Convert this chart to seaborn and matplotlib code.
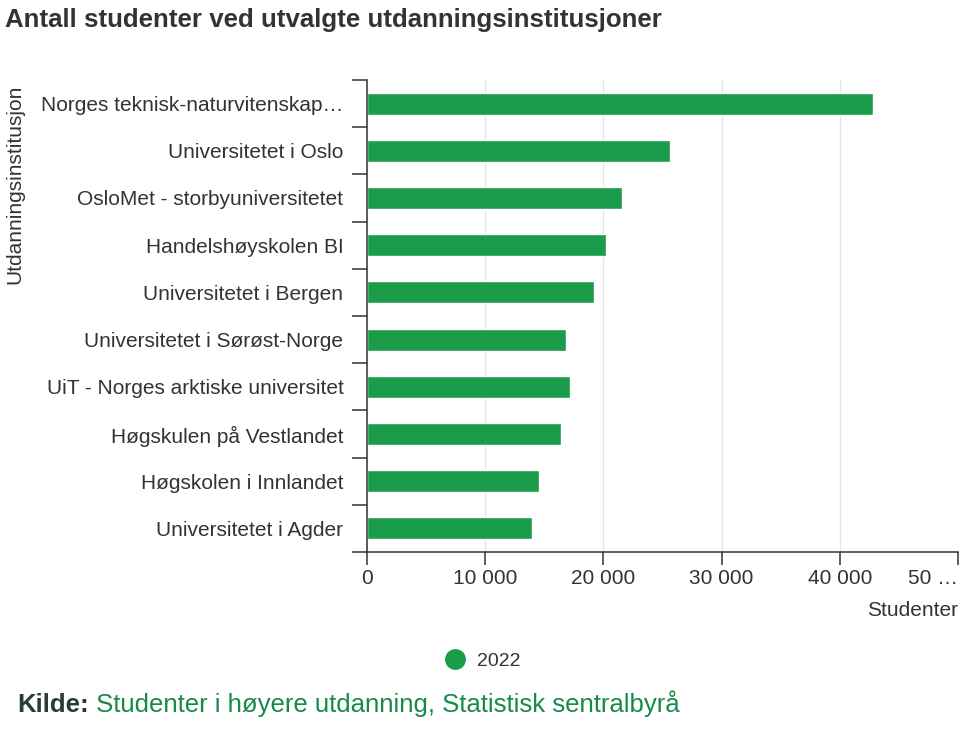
import numpy as np
import pandas as pd
import seaborn as sns
import matplotlib
matplotlib.use("Agg")
import matplotlib.pyplot as plt
from matplotlib.lines import Line2D
from matplotlib.ticker import FixedLocator

# data
institutions = ["Norges teknisk-naturvitenskap…",
                "Universitetet i Oslo",
                "OsloMet - storbyuniversitetet",
                "Handelshøyskolen BI",
                "Universitetet i Bergen",
                "Universitetet i Sørøst-Norge",
                "UiT - Norges arktiske universitet",
                "Høgskulen på Vestlandet",
                "Høgskolen i Innlandet",
                "Universitetet i Agder"]
students_2022 = [42800, 25650, 21550, 20250, 19200, 16850, 17150, 16450, 14550, 13950]
x_ticks = [0, 10000, 20000, 30000, 40000, 50000]
x_ticklabels = ["0", "10 000", "20 000", "30 000", "40 000", "50 …"]

green = "#1b9c4b"
dark = "#333333"

sns.set_style("white")
plt.rcParams["font.family"] = ["Liberation Sans", "DejaVu Sans"]

df = pd.DataFrame({"Utdanningsinstitusjon": institutions, "Studenter": students_2022})

fig = plt.figure(figsize=(9.73, 7.3), dpi=100)
ax = fig.add_axes([367 / 973, 1 - 552 / 730, (958 - 367) / 973, (552 - 80) / 730])

sns.barplot(data=df, x="Studenter", y="Utdanningsinstitusjon", orient="h",
            color=green, width=0.47, saturation=1, ax=ax)

ax.set_xlim(0, 50000)
ax.set_ylim(len(institutions) - 0.5, -0.5)
ax.set_xticks(x_ticks)
ax.set_xticklabels(x_ticklabels)
ax.get_xticklabels()[-1].set_horizontalalignment("right")
ax.xaxis.grid(True, color="#e6e6e6", linewidth=1)
ax.set_axisbelow(True)

for s in ["top", "right"]:
    ax.spines[s].set_visible(False)
for s in ["left", "bottom"]:
    ax.spines[s].set_color(dark)
    ax.spines[s].set_linewidth(1.1)

# category ticks sit between the bars
ax.yaxis.set_minor_locator(FixedLocator(np.arange(-0.5, len(institutions), 1)))
ax.tick_params(axis="y", which="minor", length=11, width=1.1, color=dark, left=True)
ax.tick_params(axis="y", which="major", length=0, pad=17, labelsize=15, labelcolor=dark)
ax.tick_params(axis="x", which="major", length=9.5, width=1.1, color=dark,
               bottom=True, pad=3, labelsize=15, labelcolor=dark)

ax.set_xlabel("")
ax.set_ylabel("")

fig.text(958 / 973, 1 - 610 / 730, "Studenter", ha="right", va="center",
         fontsize=15, color=dark)
fig.text(15 / 973, 1 - 85 / 730, "Utdanningsinstitusjon", rotation=90,
         ha="center", va="top", fontsize=15, color=dark)
fig.text(5 / 973, 1 - 20 / 730, "Antall studenter ved utvalgte utdanningsinstitusjoner",
         ha="left", va="center", fontsize=18.6, fontweight="bold", color=dark)

handle = Line2D([], [], marker="o", linestyle="none", markersize=14,
                markerfacecolor=green, markeredgecolor=green)
fig.legend([handle], ["2022"], loc="center", bbox_to_anchor=(478 / 973, 1 - 661 / 730),
           frameon=False, fontsize=14, handletextpad=0.1, labelcolor=dark)

# source line: bold label, then green text right after it
kilde = fig.text(17 / 973, 1 - 705 / 730, "Kilde:", ha="left", va="center",
                 fontsize=18.5, fontweight="bold", color="#2b3a3a")
fig.add_artist(matplotlib.text.Annotation(
    " Studenter i høyere utdanning, Statistisk sentralbyrå",
    xy=(1, 0), xycoords=kilde, xytext=(0, 0), textcoords="offset points",
    ha="left", va="bottom", fontsize=18.5, color="#17894c"))

fig.savefig("out.png", dpi=100)
